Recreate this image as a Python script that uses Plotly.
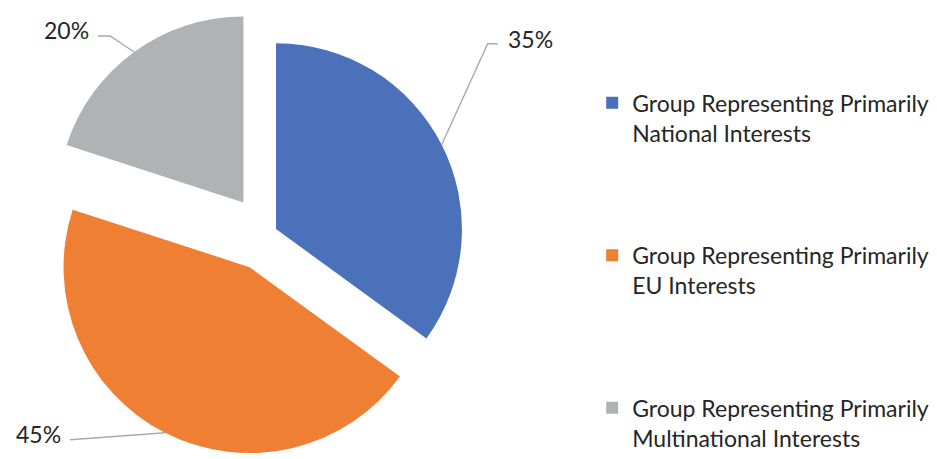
import math
import plotly.graph_objects as go

# ---- data ----
legend_labels = [
    "Group Representing Primarily<br>National Interests",
    "Group Representing Primarily<br>EU Interests",
    "Group Representing Primarily<br>Multinational Interests",
]
values = [35, 45, 20]
pct_text = ["35%", "45%", "20%"]

# ---- styles ----
colors = ["#4A71B9", "#EE7F33", "#B1B2B6"]
pulls = [0.058, 0.20, 0.21]
FONT = "Lato"
TXT = "#262626"
W, H = 937, 459
dom_x = [0.0388, 0.5298]
dom_y = [0.0, 0.9804]

# spacing lines appended to legend entries (for vertical gaps)
spacer = "<br> <br> <br> "
names = [legend_labels[0] + spacer, legend_labels[1] + spacer, legend_labels[2]]

fig = go.Figure(go.Pie(
    labels=names,
    values=values,
    sort=False,
    direction="clockwise",
    rotation=0,
    pull=pulls,
    marker=dict(colors=colors, line=dict(width=0)),
    textinfo="none",
    hoverinfo="skip",
    domain=dict(x=dom_x, y=dom_y),
))

# ---- geometry as Plotly computes it (for label leader lines) ----
box_w = W * (dom_x[1] - dom_x[0])
box_h = H * (dom_y[1] - dom_y[0])
r = min(box_w, box_h) / 2 / (1 + max(pulls))
cx = W * (dom_x[0] + dom_x[1]) / 2
cy = H * (1 - dom_y[0]) - box_h / 2

# label layout: (elbow offset, end offset, text offset, anchor) relative to slice tip, in px
label_layout = [
    ((46, -101), (56, -101), (64, -106), "left"),
    ((-95, 7), (-95, 7), (-102, 1), "right"),
    ((-24, -16), (-36, -16), (-43, -22), "right"),
]

def px2paper(x, y):
    return x / W, 1 - y / H

total = sum(values)
cum = 0
shapes, annotations = [], []
for i, v in enumerate(values):
    mid = (cum + v / 2) / total
    cum += v
    th = 2 * math.pi * mid
    dx, dy = math.sin(th), -math.cos(th)
    tx = cx + (1 + pulls[i]) * r * dx
    ty = cy + (1 + pulls[i]) * r * dy
    (ex, ey), (fx, fy), (lx, ly), anc = label_layout[i]
    p0 = px2paper(tx, ty)
    p1 = px2paper(tx + ex, ty + ey)
    p2 = px2paper(tx + fx, ty + fy)
    shapes.append(dict(
        type="path", xref="paper", yref="paper",
        path=f"M {p0[0]},{p0[1]} L {p1[0]},{p1[1]} L {p2[0]},{p2[1]}",
        line=dict(color="#A9A9A9", width=1.4),
    ))
    pt = px2paper(tx + lx, ty + ly)
    annotations.append(dict(
        x=pt[0], y=pt[1], xref="paper", yref="paper",
        text=pct_text[i], showarrow=False, xanchor=anc, yanchor="middle",
        font=dict(family=FONT, size=23, color=TXT),
    ))

fig.update_layout(
    width=W, height=H,
    margin=dict(l=0, r=0, t=0, b=0, autoexpand=False),
    paper_bgcolor="white",
    plot_bgcolor="white",
    shapes=shapes,
    annotations=annotations,
    showlegend=True,
    legend=dict(
        x=0.632, y=0.823, xanchor="left", yanchor="top",
        font=dict(family=FONT, size=23, color=TXT),
        valign="top",
        bgcolor="rgba(0,0,0,0)",
        itemclick=False, itemdoubleclick=False,
    ),
)

fig.write_html(
    "out.html",
    config={"displayModeBar": False},
    post_script="document.body.style.margin='0';document.body.style.overflow='hidden';",
)
